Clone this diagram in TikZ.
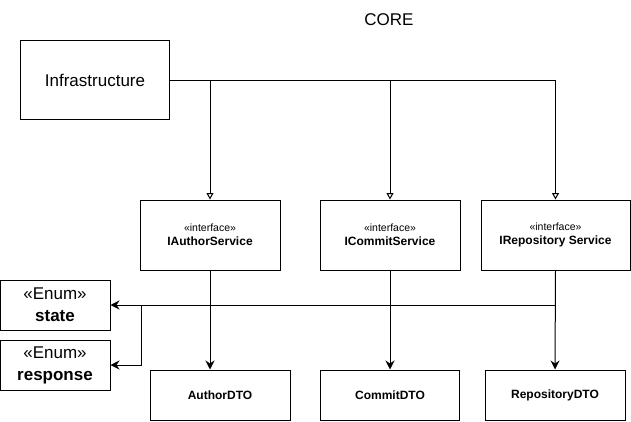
\documentclass[tikz,border=0pt]{standalone}
\usepackage{fontspec}
\setmainfont{Liberation Sans}
\usepackage{tikz}
\usetikzlibrary{arrows.meta,positioning}

\begin{document}
\begin{tikzpicture}[x=1pt,y=-1pt,line width=1pt,
                box/.style={rectangle, draw, inner sep=0pt},
                big/.style={font=\fontsize{17}{20}\selectfont},
                small/.style={font=\fontsize{12}{14}\selectfont},
                impl/.style={-{Triangle[open,length=6.5pt,width=7pt]}},
                uses/.style={-{Stealth[length=9pt,width=9pt,inset=3pt]}}]
                \useasboundingbox (0,0) rectangle (631,422);
                \node [big] (core) at (389, 20) {CORE};
                \node [box, big, minimum width=149pt, minimum height=79pt] (infra) at (95, 80.5) {Infrastructure};
                % interfaces
                \node [box, small, minimum width=140pt, minimum height=70pt, align=center] (iauthor) at (210, 235)
                    {\fontsize{10.5}{12}\selectfont «interface»\\[0pt]\textbf{IAuthorService}};
                \node [box, small, minimum width=140pt, minimum height=70pt, align=center] (icommit) at (390, 235)
                    {\fontsize{10.5}{12}\selectfont «interface»\\[0pt]\textbf{ICommitService}};
                \node [box, small, minimum width=149pt, minimum height=70pt, align=center] (irepo) at (555.5, 235)
                    {\fontsize{10.5}{12}\selectfont «interface»\\[0pt]\textbf{IRepository Service}};
                % enums
                \node [box, big, minimum width=110pt, minimum height=50pt, align=center] (state) at (55, 305)
                    {«Enum»\\[2pt]\textbf{state}};
                \node [box, big, minimum width=110pt, minimum height=50pt, align=center] (response) at (55, 365)
                    {«Enum»\\[2pt]\textbf{response}};
                % dtos
                \node [box, small, minimum width=140pt, minimum height=50pt] (adto) at (220, 395) {\textbf{AuthorDTO}};
                \node [box, small, minimum width=139pt, minimum height=50pt] (cdto) at (390, 395) {\textbf{CommitDTO}};
                \node [box, small, minimum width=140pt, minimum height=50pt] (rdto) at (555, 395) {\textbf{RepositoryDTO}};
                \coordinate (fork) at (141.5, 305);
                % infrastructure implements the interfaces
                \draw [impl] (infra.east) -| (irepo.north);
                \draw [impl] (infra.east -| iauthor.north) -- (iauthor.north);
                \draw [impl] (infra.east -| icommit.north) -- (icommit.north);
                % services use the dtos
                \draw [uses] (iauthor.south) -- (iauthor.south |- adto.north);
                \draw [uses] (icommit.south) -- (cdto.north);
                \draw [uses] (irepo.south) -- (rdto.north);
                % and the enums
                \draw [uses] (irepo.south |- state.east) -- (state.east);
                \draw [uses] (fork) |- (response.east);
        \end{tikzpicture}
\end{document}
